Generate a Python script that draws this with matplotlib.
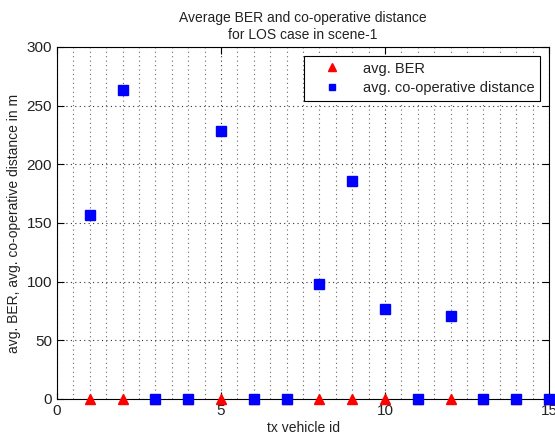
import matplotlib
matplotlib.use("Agg")
import matplotlib.pyplot as plt
from matplotlib.ticker import MultipleLocator

plt.rcParams['font.family'] = ['Liberation Sans', 'DejaVu Sans']

vehicle_id = [1, 2, 3, 4, 5, 6, 7, 8, 9, 10, 11, 12, 13, 14, 15]
avg_ber = [0, 0, 0, 0, 0, 0, 0, 0, 0, 0, 0, 0, 0, 0, 0]
avg_dist = [157, 263, 0, 0, 228, 0, 0, 98, 186, 77, 0, 71, 0, 0, 0]

fig = plt.figure(figsize=(5.55, 4.41), dpi=100)
ax = fig.add_axes([57/555, 42/441, 492/555, 352/441])

ax.plot(vehicle_id, avg_ber, linestyle='none', marker='^', color='red',
        markersize=7, label='avg. BER', clip_on=False, zorder=3)
ax.plot(vehicle_id, avg_dist, linestyle='none', marker='s', color='blue',
        markersize=6.5, label='avg. co-operative distance', clip_on=False, zorder=4)

ax.set_xlim(0, 15)
ax.set_ylim(0, 300)
ax.xaxis.set_major_locator(MultipleLocator(5))
ax.xaxis.set_minor_locator(MultipleLocator(0.5))
ax.yaxis.set_major_locator(MultipleLocator(50))
ax.grid(which='major', linestyle=(0, (1, 3)), color='#333333', linewidth=0.8)
ax.grid(which='minor', axis='x', linestyle=(0, (1, 3)), color='#666666', linewidth=0.8)
ax.tick_params(which='both', direction='in', top=True, right=True, labelsize=11,
               labelcolor='#222222')
ax.tick_params(which='minor', length=0)
ax.tick_params(which='major', length=5)

ax.set_title('Average BER and co-operative distance\nfor LOS case in scene-1',
             fontsize=10, color='#222222')
ax.set_xlabel('tx vehicle id', fontsize=10, labelpad=2, color='#222222')
ax.set_ylabel('avg. BER, avg. co-operative distance in m', fontsize=10, color='#222222')

leg = ax.legend(loc='upper right', fontsize=10.5, fancybox=False, framealpha=1,
                edgecolor='black', borderaxespad=0.6, markerscale=0.75,
                handlelength=3, handletextpad=0.6, labelspacing=0.4)
leg.get_frame().set_linewidth(0.8)
for t in leg.get_texts():
    t.set_color('#222222')

fig.savefig('out.png', dpi=100)
